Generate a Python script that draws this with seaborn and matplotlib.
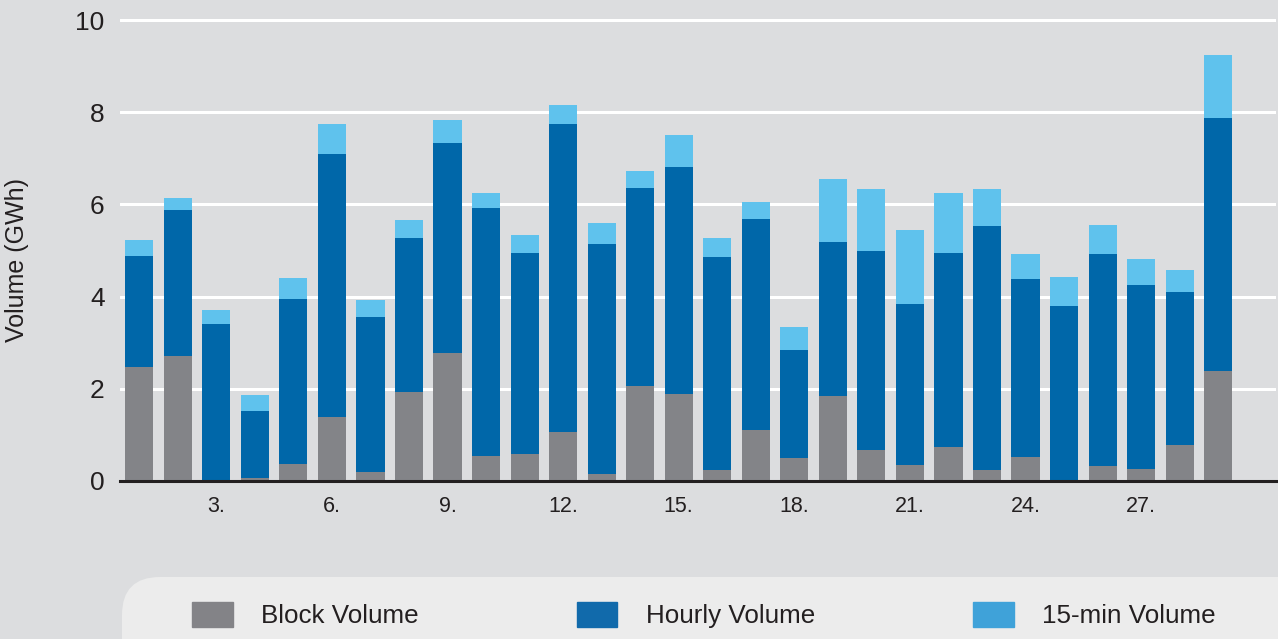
import pandas as pd
import seaborn as sns
import matplotlib.pyplot as plt
from matplotlib.patches import FancyBboxPatch, Patch
from matplotlib.transforms import IdentityTransform

# daily volumes in GWh
days = list(range(1, 30))
block = [2.47, 2.71, 0.00, 0.07, 0.37, 1.39, 0.20, 1.93, 2.78, 0.54,
         0.59, 1.06, 0.15, 2.06, 1.89, 0.24, 1.11, 0.50, 1.84, 0.67,
         0.35, 0.74, 0.24, 0.52, 0.00, 0.33, 0.26, 0.78, 2.39]
hourly = [2.41, 3.17, 3.41, 1.45, 3.58, 5.70, 3.36, 3.34, 4.55, 5.38,
          4.36, 6.68, 4.99, 4.30, 4.92, 4.62, 4.57, 2.34, 3.34, 4.32,
          3.49, 4.21, 5.29, 3.86, 3.80, 4.59, 3.99, 3.32, 5.48]
quarter = [0.35, 0.26, 0.30, 0.35, 0.45, 0.65, 0.37, 0.39, 0.50, 0.33,
           0.39, 0.42, 0.46, 0.36, 0.70, 0.41, 0.37, 0.50, 1.37, 1.34,
           1.60, 1.30, 0.80, 0.54, 0.63, 0.63, 0.57, 0.48, 1.37]
tick_days = [3, 6, 9, 12, 15, 18, 21, 24, 27]
labels = ["Block Volume", "Hourly Volume", "15-min Volume"]

BG = "#dcdddf"
TXT = "#231f20"
C_BLOCK, C_HOUR, C_QUART = "#838488", "#0067a9", "#5fc2ed"
LEG_COLORS = ["#838387", "#116aab", "#3fa2d9"]

sns.set_style("white")
plt.rcParams['font.family'] = ['Liberation Sans', 'DejaVu Sans']

df = pd.DataFrame({"day": days, "block": block, "hourly": hourly, "quarter": quarter})
df["hourly_top"] = df["block"] + df["hourly"]
df["total"] = df["hourly_top"] + df["quarter"]

fig = plt.figure(figsize=(12.78, 6.39), dpi=100, facecolor=BG)
ax = fig.add_axes([120 / 1278, 1 - 481 / 639, 1156 / 1278, (481 - 15.4) / 639])
ax.set_facecolor(BG)

# stacked look: draw cumulative totals back to front
for col, color in [("total", C_QUART), ("hourly_top", C_HOUR), ("block", C_BLOCK)]:
    sns.barplot(data=df, x="day", y=col, color=color, native_scale=True,
                width=0.73, saturation=1, errorbar=None, linewidth=0, ax=ax)

ax.set_xlim(0.5, 30.5)
ax.set_ylim(0, 10.1)
ax.set_yticks(range(0, 11, 2))
ax.set_xticks(tick_days)
ax.set_xticklabels([f"{d}." for d in tick_days])
ax.grid(axis="y", color="white", lw=2.2)
ax.set_axisbelow(True)
for s in ["left", "right", "top"]:
    ax.spines[s].set_visible(False)
ax.spines["bottom"].set_color(TXT)
ax.spines["bottom"].set_linewidth(2.2)
ax.spines["bottom"].set_zorder(5)
ax.tick_params(axis="y", length=0, labelsize=19, pad=11, labelcolor=TXT)
ax.tick_params(axis="x", length=0, labelsize=15.5, pad=11, labelcolor=TXT)
ax.set_xlabel("")
ax.set_ylabel("Volume (GWh)", fontsize=18, color=TXT)
ax.yaxis.set_label_coords(-0.079, 0.475)

# legend panel
panel = FancyBboxPatch((122, -60), 1250, 639 - 577 + 60,
                       boxstyle="round,pad=0,rounding_size=38",
                       fc="#ececec", ec="none", transform=IdentityTransform(), zorder=0)
fig.add_artist(panel)
handles = [Patch(color=c) for c in LEG_COLORS]
fig.legend(handles, labels, loc="center left", bbox_to_anchor=(192 / 1278, 24 / 639),
           ncol=3, frameon=False, fontsize=18.7, handlelength=1.56, handleheight=1.09,
           handletextpad=1.09, columnspacing=6.1, borderpad=0, borderaxespad=0,
           labelcolor=TXT)

fig.savefig("out.png", dpi=100, facecolor=BG)
